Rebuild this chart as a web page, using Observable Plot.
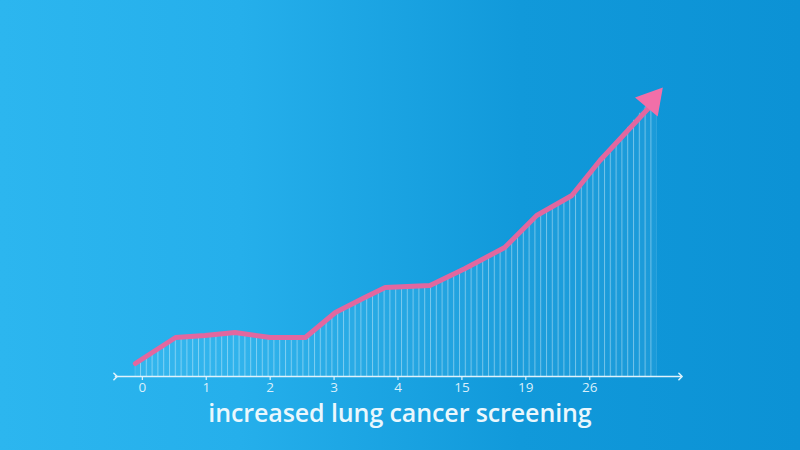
<!DOCTYPE html>
<html><head><meta charset="utf-8">
<script src="https://cdn.jsdelivr.net/npm/d3@7"></script>
<script src="https://cdn.jsdelivr.net/npm/@observablehq/plot@0.6"></script>
<style>
html,body{margin:0;padding:0;}
#wrap{position:relative;width:800px;height:450px;overflow:hidden;
background:linear-gradient(90deg,#2cb6ef 0%,#25afeb 30%,#1199da 65%,#0c92d5 100%);}
#title{position:absolute;left:0;width:800px;top:399px;line-height:26px;height:26px;text-align:center;font-family:"Open Sans",sans-serif;font-weight:600;font-size:25px;color:#eaf7fd;letter-spacing:-0.1px;}
</style></head>
<body><div id="wrap"><div id="chart"></div><div id="title">increased lung cancer screening</div></div>
<script>
// Tick categories (shown evenly spaced)
const tickLabels = ["0","1","2","3","4","15","19","26"];
const tickPos = [0,1,2,3,4,5,6,7];
// Curve positions (on tick index scale) and values
const xs = [-0.11,0.52,0.98,1.45,2.0,2.55,3.02,3.48,3.8,4.5,5.05,5.67,6.17,6.72,7.16,8.05];
const ys = [13,39,41,44,39,39,64,79,89,91,108,129,161,181,216,283];
const axisExtent = [-0.42, 8.42];

const pts = xs.map((x,i)=>({x, y: ys[i]}));
const ticks = tickPos.map((p,i)=>({p, label: tickLabels[i]}));
const axisLine = axisExtent.map(x=>({x, y:0}));
const last = pts[pts.length-1];

const plot = Plot.plot({
  width: 800, height: 398,
  marginTop: 0, marginRight: 0, marginBottom: 0, marginLeft: 0,
  style: {background: "transparent", overflow: "visible"},
  x: {domain: axisExtent, range: [115, 680], axis: null},
  y: {domain: [0, 300], range: [376, 76], axis: null},
  marks: [
    Plot.areaY(pts, {x: "x", y1: 0, y2: "y", fill: "url(#hatch)"}),
    Plot.line(axisLine, {x: "x", y: "y", stroke: "#dff3fc", strokeWidth: 1.6, markerStart: "arrow", markerEnd: "arrow"}),
    Plot.ruleX(ticks, {x: "p", y1: -4, y2: 0, stroke: "#dff3fc", strokeWidth: 1.2}),
    Plot.text(ticks, {x: "p", y: -11, text: "label", fill: "#d9effb", fontSize: 13.5, fontFamily: "Open Sans, sans-serif"}),
    Plot.line(pts.slice(0, -1).concat([{x: last.x - 0.12, y: last.y - 14}]), {x: "x", y: "y", stroke: "#e2679f", strokeWidth: 5, strokeLinejoin: "round"}),
    Plot.dot([last], {x: "x", y: "y", symbol: "triangle", r: 11, fill: "#f26fa8", rotate: 40, dx: -5, dy: 7})
  ]
});

const ns = "http://www.w3.org/2000/svg";
const defs = document.createElementNS(ns, "defs");
defs.innerHTML = '<pattern id="hatch" patternUnits="userSpaceOnUse" width="5.8" height="10" x="140"><rect width="5.8" height="10" fill="rgba(255,255,255,0.05)"/><line x1="0.5" y1="0" x2="0.5" y2="10" stroke="rgba(255,255,255,0.38)" stroke-width="1"/></pattern>';
plot.insertBefore(defs, plot.firstChild);
document.getElementById("chart").appendChild(plot);
</script>
</body></html>
